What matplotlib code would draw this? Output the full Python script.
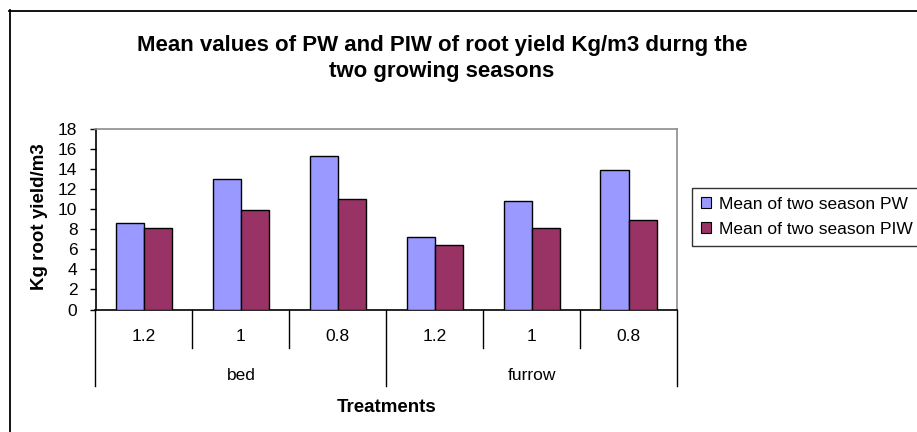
import matplotlib
matplotlib.use("Agg")
import matplotlib.pyplot as plt
from matplotlib.lines import Line2D
from matplotlib.patches import Patch
import matplotlib.transforms as mtransforms
import numpy as np

plt.rcParams['font.family'] = ['Liberation Sans', 'DejaVu Sans']

groups = ["bed", "furrow"]
levels = ["1.2", "1", "0.8"]
pw = [8.65, 13.05, 15.3, 7.25, 10.85, 13.9]
piw = [8.1, 9.9, 11.05, 6.4, 8.1, 8.95]
series_names = ["Mean of two season PW", "Mean of two season PIW"]
colors = ["#9999FF", "#993366"]
title = "Mean values of PW and PIW of root yield Kg/m3 durng the\ntwo growing seasons"
ylabel = "Kg root yield/m3"
xlabel = "Treatments"
yticks = list(range(0, 19, 2))

FS = 12.5
FSB = 13.5

W, H = 917, 432
fig = plt.figure(figsize=(W / 100, H / 100), dpi=100)
fig.patch.set_facecolor("white")

ax_l, ax_r, ax_t, ax_b = 95.5, 677, 129, 309.5
ax = fig.add_axes([ax_l / W, 1 - ax_b / H, (ax_r - ax_l) / W, (ax_b - ax_t) / H])

n = len(pw)
x = np.arange(n)
bw = 0.29
ax.bar(x - bw / 2, pw, bw, color=colors[0], edgecolor="black", linewidth=1.0, zorder=3)
ax.bar(x + bw / 2, piw, bw, color=colors[1], edgecolor="black", linewidth=1.0, zorder=3)

ax.set_xlim(-0.5, n - 0.5)
ax.set_ylim(0, 18)
ax.set_yticks(yticks)
ax.set_yticklabels([str(v) for v in yticks], fontsize=FS)
ax.tick_params(axis="y", direction="out", length=4, width=1, pad=9, color="black")
ax.set_xticks([])
for s in ["top", "right"]:
    ax.spines[s].set_color("#8c8c8c")
    ax.spines[s].set_linewidth(1.2)
for s in ["left", "bottom"]:
    ax.spines[s].set_color("black")
    ax.spines[s].set_linewidth(1.2)

# multi-level category axis
trans = mtransforms.blended_transform_factory(ax.transData, ax.transAxes)
ph = ax_b - ax_t
short_y = -(348 - ax_b) / ph
long_y = -(386 - ax_b) / ph
lvl_y = -(336.5 - ax_b) / ph
grp_y = -(375 - ax_b) / ph
ttl_y = -(408 - ax_b) / ph

ng = len(groups)
nl = len(levels)
for b in range(n + 1):
    xb = b - 0.5
    yend = long_y if b % nl == 0 else short_y
    ax.add_line(Line2D([xb, xb], [0, yend], transform=trans, color="black",
                       linewidth=1.0, clip_on=False))
for i in range(n):
    ax.text(i, lvl_y, levels[i % nl], transform=trans, ha="center", va="center", fontsize=FS)
for g in range(ng):
    ax.text(g * nl + (nl - 1) / 2, grp_y, groups[g], transform=trans, ha="center",
            va="center", fontsize=FS)
ax.text((n - 1) / 2, ttl_y, xlabel, transform=trans, ha="center", va="center",
        fontsize=FSB, fontweight="bold")

fig.text(40 / W, 1 - 217 / H, ylabel, rotation=90, ha="center", va="center",
         fontsize=FSB, fontweight="bold")

fig.text(442 / W, 1 - 58.5 / H, title, ha="center", va="center", fontsize=16,
         fontweight="bold", linespacing=1.35)

handles = [Patch(facecolor=colors[0], edgecolor="black", linewidth=0.8),
           Patch(facecolor=colors[1], edgecolor="black", linewidth=0.8)]
leg = fig.legend(handles, series_names, loc="upper left",
                 bbox_to_anchor=(692 / W, 1 - 188 / H), fontsize=FS,
                 frameon=True, fancybox=False, edgecolor="black",
                 handlelength=0.6, handleheight=0.6, handletextpad=0.45,
                 borderpad=0.5, labelspacing=0.6, borderaxespad=0)
leg.get_frame().set_linewidth(1.0)

# outer chart frame
fig.add_artist(Line2D([9.5 / W, 9.5 / W], [1 - 10 / H, -0.05], transform=fig.transFigure,
                      color="black", linewidth=1.3))
fig.add_artist(Line2D([9 / W, 1.05], [1 - 10.5 / H, 1 - 10.5 / H], transform=fig.transFigure,
                      color="black", linewidth=1.3))

fig.savefig("out.png", dpi=100, facecolor="white")
